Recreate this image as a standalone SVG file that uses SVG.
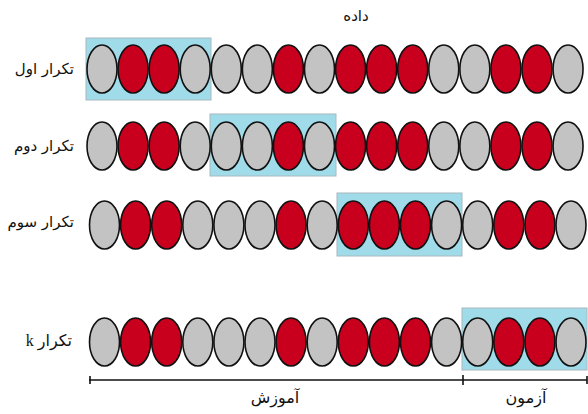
<svg xmlns="http://www.w3.org/2000/svg" width="588" height="414" viewBox="0 0 588 414">
  <style>
    .g { fill: #c3c3c3; stroke: #111; stroke-width: 1.6; }
    .r { fill: #c8001e; stroke: #111; stroke-width: 1.6; }
    .box { fill: #9fdbe9; stroke: #a9b8be; stroke-width: 1; }
    .lbl { font-family: "DejaVu Sans", "Noto Sans", sans-serif; font-size: 15px; fill: #111; }
    .ser { font-family: "Liberation Serif", "DejaVu Sans", serif; font-size: 16px; fill: #111; }
    .axis { stroke: #111; stroke-width: 1.6; fill: none; }
  </style>

  <text class="lbl" x="356" y="21" text-anchor="middle" font-size="13">داده</text>

  <!-- fold 1 -->
  <g id="fold1">
    <rect class="box" x="86" y="38" width="125" height="62"/>
    <text class="lbl" x="74" y="74" direction="rtl" text-anchor="start">تکرار اول</text>
    <g transform="translate(102,69)">
      <ellipse class="g" cx="0" rx="15" ry="24"/><ellipse class="r" cx="31.07" rx="15" ry="24"/><ellipse class="r" cx="62.14" rx="15" ry="24"/><ellipse class="g" cx="93.21" rx="15" ry="24"/>
      <ellipse class="g" cx="124.28" rx="15" ry="24"/><ellipse class="g" cx="155.35" rx="15" ry="24"/><ellipse class="r" cx="186.42" rx="15" ry="24"/><ellipse class="g" cx="217.49" rx="15" ry="24"/>
      <ellipse class="r" cx="248.56" rx="15" ry="24"/><ellipse class="r" cx="279.63" rx="15" ry="24"/><ellipse class="r" cx="310.7" rx="15" ry="24"/><ellipse class="g" cx="341.77" rx="15" ry="24"/>
      <ellipse class="g" cx="372.84" rx="15" ry="24"/><ellipse class="r" cx="403.91" rx="15" ry="24"/><ellipse class="r" cx="434.98" rx="15" ry="24"/><ellipse class="g" cx="466.05" rx="15" ry="24"/>
    </g>
  </g>

  <!-- fold 2 -->
  <g id="fold2">
    <rect class="box" x="210" y="114" width="126" height="62"/>
    <text class="lbl" x="74" y="151" direction="rtl" text-anchor="start">تکرار دوم</text>
    <g transform="translate(102,146)">
      <ellipse class="g" cx="0" rx="15" ry="24"/><ellipse class="r" cx="31.07" rx="15" ry="24"/><ellipse class="r" cx="62.14" rx="15" ry="24"/><ellipse class="g" cx="93.21" rx="15" ry="24"/>
      <ellipse class="g" cx="124.28" rx="15" ry="24"/><ellipse class="g" cx="155.35" rx="15" ry="24"/><ellipse class="r" cx="186.42" rx="15" ry="24"/><ellipse class="g" cx="217.49" rx="15" ry="24"/>
      <ellipse class="r" cx="248.56" rx="15" ry="24"/><ellipse class="r" cx="279.63" rx="15" ry="24"/><ellipse class="r" cx="310.7" rx="15" ry="24"/><ellipse class="g" cx="341.77" rx="15" ry="24"/>
      <ellipse class="g" cx="372.84" rx="15" ry="24"/><ellipse class="r" cx="403.91" rx="15" ry="24"/><ellipse class="r" cx="434.98" rx="15" ry="24"/><ellipse class="g" cx="466.05" rx="15" ry="24"/>
    </g>
  </g>

  <!-- fold 3 -->
  <g id="fold3">
    <rect class="box" x="337" y="193" width="125" height="63"/>
    <text class="lbl" x="74" y="227" direction="rtl" text-anchor="start">تکرار سوم</text>
    <g transform="translate(104.5,225)">
      <ellipse class="g" cx="0" rx="15" ry="24"/><ellipse class="r" cx="31.1" rx="15" ry="24"/><ellipse class="r" cx="62.2" rx="15" ry="24"/><ellipse class="g" cx="93.3" rx="15" ry="24"/>
      <ellipse class="g" cx="124.4" rx="15" ry="24"/><ellipse class="g" cx="155.5" rx="15" ry="24"/><ellipse class="r" cx="186.6" rx="15" ry="24"/><ellipse class="g" cx="217.7" rx="15" ry="24"/>
      <ellipse class="r" cx="248.8" rx="15" ry="24"/><ellipse class="r" cx="279.9" rx="15" ry="24"/><ellipse class="r" cx="311" rx="15" ry="24"/><ellipse class="g" cx="342.1" rx="15" ry="24"/>
      <ellipse class="g" cx="373.2" rx="15" ry="24"/><ellipse class="r" cx="404.3" rx="15" ry="24"/><ellipse class="r" cx="435.4" rx="15" ry="24"/><ellipse class="g" cx="466.5" rx="15" ry="24"/>
    </g>
  </g>

  <!-- fold k -->
  <g id="foldk">
    <rect class="box" x="462" y="308" width="125" height="62"/>
    <text class="ser" x="72" y="346" direction="rtl" text-anchor="start">تکرار k</text>
    <g transform="translate(104.5,342)">
      <ellipse class="g" cx="0" rx="15" ry="24"/><ellipse class="r" cx="31.1" rx="15" ry="24"/><ellipse class="r" cx="62.2" rx="15" ry="24"/><ellipse class="g" cx="93.3" rx="15" ry="24"/>
      <ellipse class="g" cx="124.4" rx="15" ry="24"/><ellipse class="g" cx="155.5" rx="15" ry="24"/><ellipse class="r" cx="186.6" rx="15" ry="24"/><ellipse class="g" cx="217.7" rx="15" ry="24"/>
      <ellipse class="r" cx="248.8" rx="15" ry="24"/><ellipse class="r" cx="279.9" rx="15" ry="24"/><ellipse class="r" cx="311" rx="15" ry="24"/><ellipse class="g" cx="342.1" rx="15" ry="24"/>
      <ellipse class="g" cx="373.2" rx="15" ry="24"/><ellipse class="r" cx="404.3" rx="15" ry="24"/><ellipse class="r" cx="435.4" rx="15" ry="24"/><ellipse class="g" cx="466.5" rx="15" ry="24"/>
    </g>
  </g>

  <!-- train / test span -->
  <g id="connectors">
    <line class="axis" x1="89" y1="380" x2="587" y2="380"/>
    <line class="axis" x1="90" y1="376" x2="90" y2="384" stroke-width="1"/>
    <line class="axis" x1="463" y1="375" x2="463" y2="385" stroke-width="1"/>
    <line class="axis" x1="587" y1="376" x2="587" y2="384" stroke-width="1"/>
  </g>
  <text class="ser" x="275" y="403" text-anchor="middle">آموزش</text>
  <text class="ser" x="526" y="403" text-anchor="middle">آزمون</text>
</svg>
